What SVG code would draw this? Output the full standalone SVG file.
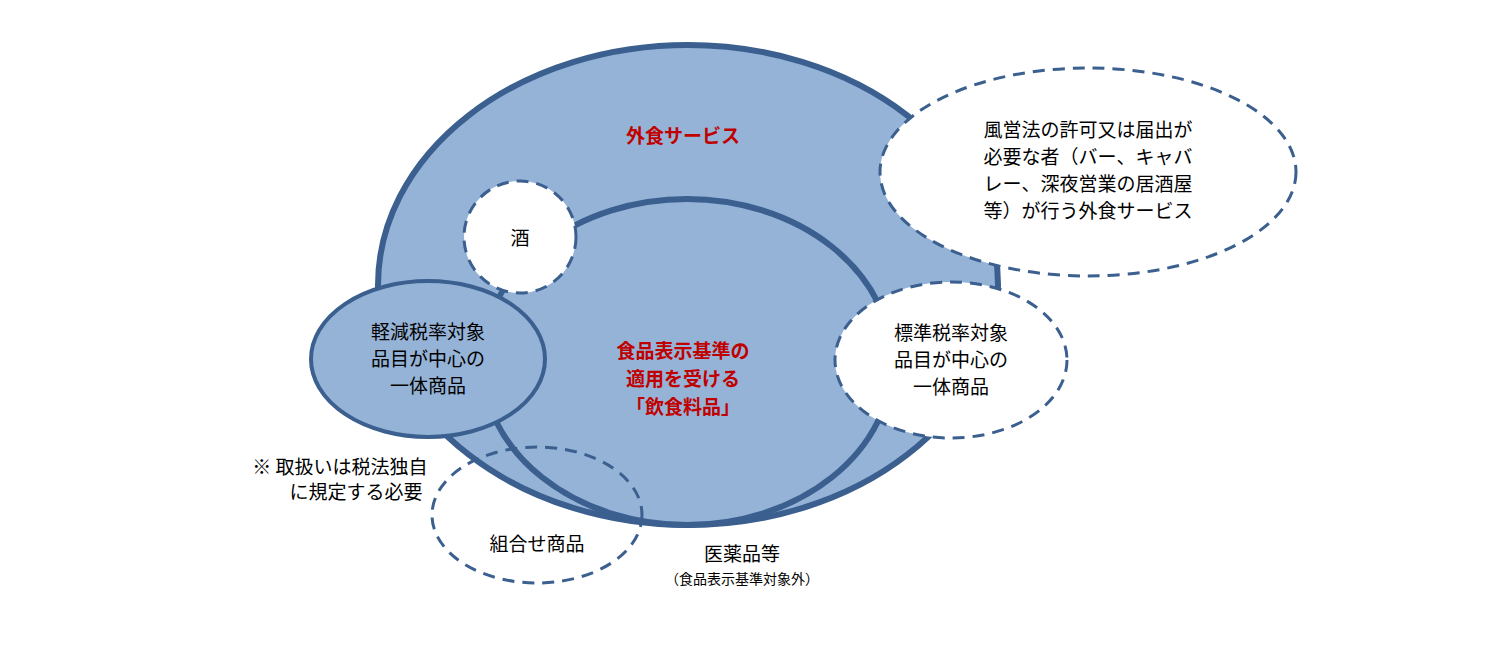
<svg xmlns="http://www.w3.org/2000/svg" width="1500" height="650" viewBox="0 0 1500 650">
<style>
.blue{fill:#95b3d7;stroke:#3b5f8e;stroke-width:6}
.solid{fill:#95b3d7;stroke:#3b5f8e;stroke-width:4}
.dash{fill:#fff;stroke:#3b5f8e;stroke-width:3;stroke-dasharray:12 8}
.dashn{fill:none;stroke:#3b5f8e;stroke-width:3;stroke-dasharray:12 8}
text{font-family:"Noto Sans CJK JP","Noto Sans",sans-serif;font-size:19px;fill:#000;text-anchor:middle}
.red{fill:#c00000;font-weight:bold}
.small{font-size:14px}
</style>
<rect width="1500" height="650" fill="#fff"/>
<g id="gaishoku"><ellipse class="blue" cx="688" cy="285" rx="310" ry="240"/><text class="red" x="683" y="143">外食サービス</text></g>
<g id="food"><ellipse class="blue" cx="687" cy="362" rx="205" ry="163"/>
<text class="red" x="683" y="358">食品表示基準の</text><text class="red" x="683" y="386">適用を受ける</text><text class="red" x="683" y="414">「飲食料品」</text></g>
<g id="sake"><circle class="dash" cx="520" cy="237" r="56"/><text x="520" y="245">酒</text></g>
<g id="keigen"><ellipse class="solid" cx="428" cy="359" rx="117" ry="78"/>
<text x="428" y="339">軽減税率対象</text><text x="428" y="366">品目が中心の</text><text x="428" y="393">一体商品</text></g>
<g id="fueiho"><ellipse class="dash" cx="1088" cy="172" rx="208" ry="104"/>
<text x="1088" y="137">風営法の許可又は届出が</text><text x="1088" y="164">必要な者（バー、キャバ</text><text x="1088" y="191">レー、深夜営業の居酒屋</text><text x="1088" y="218">等）が行う外食サービス</text></g>
<g id="hyojun"><ellipse class="dash" cx="951" cy="360" rx="116" ry="78"/>
<text x="951" y="340">標準税率対象</text><text x="951" y="367">品目が中心の</text><text x="951" y="394">一体商品</text></g>
<g id="kumiawase"><ellipse class="dashn" cx="537" cy="515" rx="105" ry="68"/><text x="537" y="551">組合せ商品</text></g>
<g id="note"><text x="340" y="474" text-anchor="middle">※  取扱いは税法独自</text><text x="356" y="499">に規定する必要</text></g>
<g id="iyaku"><text x="742" y="561">医薬品等</text><text class="small" x="742" y="584">（食品表示基準対象外）</text></g>
<g id="connectors"></g>
</svg>
